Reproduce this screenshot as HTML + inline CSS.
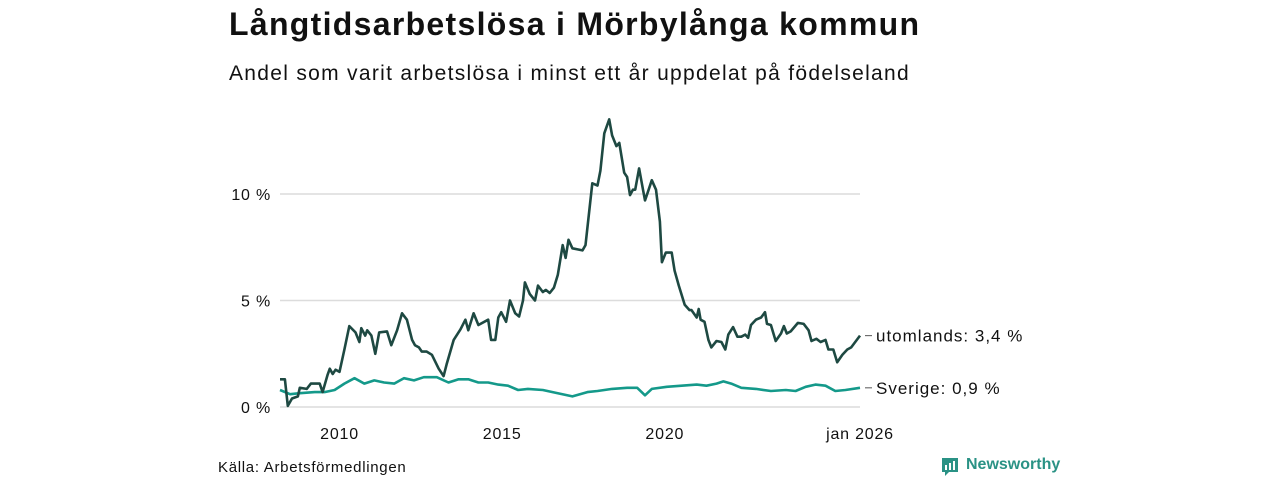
<!DOCTYPE html>
<html><head><meta charset="utf-8">
<style>
body{margin:0;width:1280px;height:480px;background:#fff;font-family:"Liberation Sans",sans-serif;overflow:hidden;position:relative}
.t{position:absolute;white-space:nowrap;color:#111}
</style></head><body>
<div class="t" style="left:229px;top:6px;font-size:32px;font-weight:bold;letter-spacing:1.3px;">Långtidsarbetslösa i Mörbylånga kommun</div>
<div class="t" style="left:229px;top:62px;font-size:21px;letter-spacing:1.3px;">Andel som varit arbetslösa i minst ett år uppdelat på födelseland</div>
<div class="t" style="left:218px;top:459px;font-size:15px;letter-spacing:0.7px;">Källa: Arbetsförmedlingen</div>
<div style="position:absolute;left:940px;top:456px;height:22px;">
<svg width="20" height="22" style="position:absolute;left:0;top:1px"><path d="M2 1h16v14H9l-4 4v-4H2z" fill="#2a9285"/><rect x="5" y="8" width="2" height="5" fill="#fff"/><rect x="9" y="6" width="2" height="7" fill="#fff"/><rect x="13" y="4" width="2" height="9" fill="#fff"/></svg>
<span style="position:absolute;left:26px;top:0;font-size:16px;font-weight:bold;color:#2a9285;white-space:nowrap">Newsworthy</span></div>
<svg id="chart" width="1280" height="480" style="position:absolute;left:0;top:0"></svg>
<script>
const foreignYears=[2008.17,2008.32,2008.41,2008.54,2008.72,2008.78,2008.99,2009.12,2009.39,2009.48,2009.63,2009.70,2009.79,2009.88,2010.0,2010.15,2010.30,2010.49,2010.61,2010.67,2010.79,2010.85,2010.98,2011.10,2011.22,2011.46,2011.59,2011.77,2011.92,2012.07,2012.23,2012.32,2012.44,2012.53,2012.68,2012.84,2013.05,2013.20,2013.29,2013.51,2013.72,2013.87,2013.96,2014.12,2014.27,2014.57,2014.66,2014.79,2014.88,2014.97,2015.12,2015.24,2015.40,2015.52,2015.64,2015.70,2015.85,2016.01,2016.10,2016.25,2016.34,2016.46,2016.59,2016.71,2016.86,2016.95,2017.04,2017.16,2017.32,2017.47,2017.56,2017.77,2017.93,2018.02,2018.14,2018.29,2018.38,2018.51,2018.60,2018.75,2018.84,2018.93,2019.02,2019.09,2019.21,2019.33,2019.39,2019.48,2019.60,2019.73,2019.85,2019.91,2020.03,2020.21,2020.30,2020.43,2020.61,2020.76,2020.82,2020.98,2021.04,2021.10,2021.22,2021.34,2021.43,2021.59,2021.74,2021.86,2021.95,2022.10,2022.23,2022.35,2022.47,2022.56,2022.65,2022.80,2022.96,2023.08,2023.14,2023.26,2023.41,2023.57,2023.66,2023.75,2023.87,2024.09,2024.27,2024.42,2024.51,2024.66,2024.79,2024.94,2025.03,2025.18,2025.30,2025.46,2025.61,2025.73,2026.0];
const foreignValues=[1.3,1.3,0.05,0.4,0.5,0.9,0.85,1.1,1.1,0.7,1.5,1.8,1.55,1.75,1.65,2.7,3.8,3.5,3.05,3.7,3.35,3.6,3.35,2.5,3.5,3.55,2.9,3.6,4.4,4.1,3.15,2.9,2.8,2.6,2.6,2.45,1.8,1.45,2.0,3.15,3.65,4.1,3.6,4.4,3.85,4.1,3.15,3.15,4.2,4.45,4.0,5.0,4.4,4.25,5.0,5.85,5.3,5.0,5.7,5.4,5.5,5.35,5.6,6.2,7.6,7.0,7.85,7.45,7.4,7.35,7.6,10.5,10.4,11.1,12.85,13.5,12.75,12.25,12.4,11.0,10.8,9.95,10.2,10.2,11.2,10.2,9.7,10.1,10.65,10.2,8.7,6.8,7.25,7.25,6.4,5.7,4.8,4.55,4.55,4.2,4.6,4.1,4.0,3.15,2.8,3.1,3.05,2.7,3.4,3.75,3.3,3.3,3.4,3.25,3.85,4.1,4.2,4.45,3.9,3.85,3.1,3.45,3.8,3.45,3.55,3.95,3.9,3.6,3.1,3.2,3.05,3.15,2.7,2.7,2.1,2.45,2.7,2.8,3.35];
const swedenYears=[2008.17,2008.48,2008.78,2009.24,2009.54,2009.85,2010.15,2010.46,2010.76,2011.07,2011.37,2011.68,2011.98,2012.29,2012.59,2012.99,2013.35,2013.66,2013.96,2014.27,2014.57,2014.88,2015.18,2015.49,2015.79,2016.25,2016.55,2017.16,2017.62,2017.93,2018.38,2018.84,2019.15,2019.39,2019.60,2020.06,2020.52,2020.98,2021.28,2021.59,2021.80,2022.04,2022.35,2022.80,2023.26,2023.72,2024.02,2024.33,2024.63,2024.94,2025.24,2025.55,2026.0];
const swedenValues=[0.8,0.6,0.65,0.7,0.7,0.8,1.1,1.35,1.1,1.25,1.15,1.1,1.35,1.25,1.4,1.4,1.15,1.3,1.3,1.15,1.15,1.05,1.0,0.8,0.85,0.8,0.7,0.5,0.7,0.75,0.85,0.9,0.9,0.55,0.85,0.95,1.0,1.05,1.0,1.1,1.2,1.1,0.9,0.85,0.75,0.8,0.75,0.95,1.05,1.0,0.75,0.8,0.9];
const yTicks=[0,5,10];
const yTickLabels=["0 %","5 %","10 %"];
const xTicks=[2010,2015,2020,2026];
const xTickLabels=["2010","2015","2020","jan 2026"];
const seriesLabels=["utomlands: 3,4 %","Sverige: 0,9 %"];

const NS="http://www.w3.org/2000/svg";
const svg=document.getElementById('chart');
const X=y=>280+(y-2008.17)*(580/(2026-2008.17));
const Y=v=>407-v*21.3;
function mk(tag,attrs){const e=document.createElementNS(NS,tag);for(const k in attrs)e.setAttribute(k,attrs[k]);svg.appendChild(e);return e;}
yTicks.forEach((t,i)=>{
  const g=mk('line',{x1:280,x2:860,y1:Y(t),y2:Y(t),stroke:'#dcdcdc','stroke-width':1.5});
  
  
  const tx=mk('text',{x:271,y:Y(t)+6,'text-anchor':'end','font-size':16,'letter-spacing':0.8,fill:'#111','font-family':'Liberation Sans, sans-serif'});
  tx.textContent=yTickLabels[i];
  
  
});
xTicks.forEach((t,i)=>{
  const tx=mk('text',{x:X(t),y:439,'text-anchor':'middle','font-size':16,'letter-spacing':0.8,fill:'#111','font-family':'Liberation Sans, sans-serif'});
  tx.textContent=xTickLabels[i];
  
  
});
function line(xs,vs,color,name){
  const n=Math.min(xs.length,vs.length);
  let d='';
  for(let i=0;i<n;i++)d+=(i?'L':'M')+X(xs[i]).toFixed(1)+' '+Y(vs[i]).toFixed(1)+' ';
  const p=mk('path',{d:d,fill:'none',stroke:color,'stroke-width':2.6,'stroke-linejoin':'round'});
  
  
}
line(swedenYears,swedenValues,'#14998a','line-sverige');
line(foreignYears,foreignValues,'#1e4942','line-utomlands');
[[foreignYears,foreignValues],[swedenYears,swedenValues]].forEach((s,i)=>{
  const lv=s[1][s[1].length-1];
  const ly=Y(lv);
  const tick=mk('line',{x1:865,x2:872,y1:ly,y2:ly,stroke:'#555','stroke-width':1});
  
  
  const tx=mk('text',{x:876,y:ly+6,'font-size':17,'letter-spacing':1,fill:'#111','font-family':'Liberation Sans, sans-serif'});
  tx.textContent=seriesLabels[i];
  
  
});
</script>
</body></html>
